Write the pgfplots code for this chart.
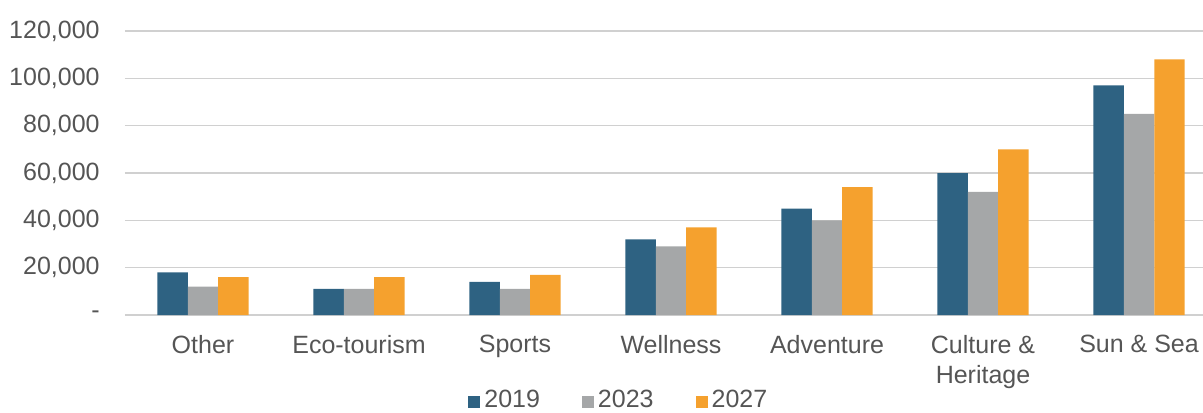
\documentclass[border=0pt]{standalone}
\usepackage{pgfplots}
\pgfplotsset{compat=1.18}
\usepackage{fontspec}
\setmainfont{Liberation Sans}
\definecolor{c2019}{HTML}{2E6282}
\definecolor{c2023}{HTML}{A5A7A8}
\definecolor{c2027}{HTML}{F5A12E}
\definecolor{gridc}{HTML}{D0D0D0}
\definecolor{txt}{HTML}{555555}
\begin{document}
\begin{tikzpicture}
% 1 px of the reference = 0.5pt
\useasboundingbox (-62.5pt,-48.5pt) rectangle (539pt,157.5pt);
\begin{axis}[
    scale only axis,
    width=539pt, height=142pt,
    ybar=0pt,
    bar width=15.2pt,
    xmin=-0.5, xmax=6.41,
    ymin=0, ymax=120000,
    scaled y ticks=false,
    xtick=data,
    xticklabels={Other, Eco-tourism, Sports, Wellness, Adventure, {Culture \&\\Heritage}, Sun \& Sea},
    ytick={0,20000,40000,60000,80000,100000,120000},
    yticklabels={-, {20,000}, {40,000}, {60,000}, {80,000}, {100,000}, {120,000}},
    axis line style={draw=none},
    major tick length=0pt,
    ymajorgrids,
    grid style={gridc, line width=0.8pt},
    every tick label/.append style={font=\fontsize{12.5}{15}\selectfont, text=txt},
    yticklabel style={inner sep=0pt, xshift=-12.5pt},
    xticklabel style={inner sep=0pt, yshift=-10pt, align=center},
    legend style={at={(0.459,-0.30)}, anchor=center, draw=none, fill=none,
        legend columns=-1, font=\fontsize{12.5}{15}\selectfont, text=txt,
        /tikz/every even column/.append style={column sep=19pt}},
    legend image code/.code={\fill[#1,draw=none] (0pt,-4pt) rectangle (6pt,2pt);},
]
\addplot[fill=c2019, draw=none] coordinates {(0,18000) (1,11000) (2,14000) (3,32000) (4,45000) (5,60000) (6,97000)};
\addplot[fill=c2023, draw=none] coordinates {(0,12000) (1,11000) (2,11000) (3,29000) (4,40000) (5,52000) (6,85000)};
\addplot[fill=c2027, draw=none] coordinates {(0,16000) (1,16000) (2,17000) (3,37000) (4,54000) (5,70000) (6,108000)};
\legend{2019, 2023, 2027}
\end{axis}
\end{tikzpicture}
\end{document}
